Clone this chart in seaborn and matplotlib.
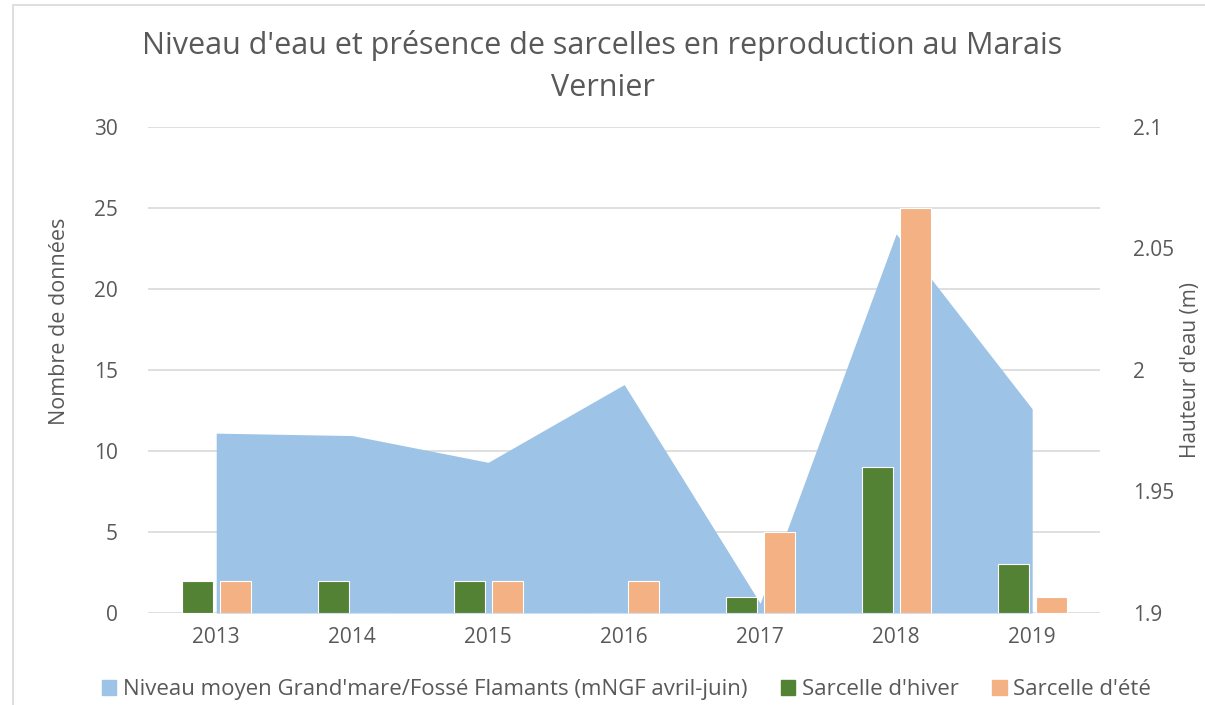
import pandas as pd
import seaborn as sns
import matplotlib.pyplot as plt
from matplotlib.patches import Patch, Rectangle
from matplotlib.ticker import MultipleLocator, LinearLocator

# --- données ---
annees = ["2013", "2014", "2015", "2016", "2017", "2018", "2019"]
niveau_eau = [1.974, 1.973, 1.962, 1.994, 1.904, 2.056, 1.984]
sarcelle_hiver = [2, 2, 2, 0, 1, 9, 3]
sarcelle_ete = [2, 0, 2, 2, 5, 25, 1]

series = ["Sarcelle d'hiver", "Sarcelle d'été"]
niveau_label = "Niveau moyen Grand'mare/Fossé Flamants (mNGF avril-juin)"

BLEU = "#9DC3E6"
VERT = "#548235"
ORANGE = "#F4B183"
GRIS = "#595959"

df = pd.DataFrame({
    "annee": annees * 2,
    "serie": [series[0]] * len(annees) + [series[1]] * len(annees),
    "nombre": sarcelle_hiver + sarcelle_ete,
})

sns.set_theme(style="white")
plt.rcParams['font.family'] = ['Open Sans', 'DejaVu Sans']

fig = plt.figure(figsize=(12.05, 7.05), dpi=100)
fig.patches.append(Rectangle((13 / 1205, -0.1), 1.2, 1 - 5 / 705 + 0.1, transform=fig.transFigure,
                             fill=False, edgecolor="#D9D9D9", linewidth=1.2))

# axe du fond : niveau d'eau (aire), échelle à droite
ax = fig.add_axes([0.123, 0.1305, 0.79, 0.6895])
x = list(range(len(annees)))
ax.fill_between(x, 1.9, niveau_eau, color=BLEU, linewidth=0, zorder=2)
ax.set_ylim(1.9, 2.1)
ax.set_xlim(-0.5, len(annees) - 0.5)

# axe du dessus : nombre de données (barres), échelle à gauche
ax2 = ax.twinx()
sns.barplot(data=df, x="annee", y="nombre", hue="serie", order=annees, hue_order=series,
            palette=[VERT, ORANGE], width=0.56, gap=0.18, edgecolor="white", linewidth=0.8,
            saturation=1, legend=False, ax=ax2)
ax2.set_ylim(0, 30)
ax2.set_xlim(-0.5, len(annees) - 0.5)
ax2.yaxis.set_major_locator(MultipleLocator(5))
ax2.yaxis.tick_left()
ax2.yaxis.set_label_position('left')
ax2.set_ylabel("Nombre de données", fontsize=15.5, color=GRIS)
ax2.yaxis.set_label_coords(-0.082, 0.60)
ax2.set_xlabel("")
ax2.tick_params(axis='y', length=0, labelsize=15, labelcolor=GRIS, pad=22)
ax2.grid(False)
for s in ax2.spines.values():
    s.set_visible(False)

# réglages de l'axe du fond (après twinx qui remet les graduations à gauche)
ax.yaxis.tick_right()
ax.yaxis.set_label_position('right')
ax.yaxis.set_major_locator(MultipleLocator(0.05))
ax.yaxis.set_major_formatter(plt.FuncFormatter(lambda v, p: f"{v:g}"))
ax.yaxis.set_minor_locator(LinearLocator(7))
ax.yaxis.remove_overlapping_locs = False
ax.grid(False)
ax.grid(which='minor', axis='y', color="#D9D9D9", linewidth=1.2, zorder=0)
ax.set_axisbelow(True)
ax.set_ylabel("Hauteur d'eau (m)", fontsize=15, color=GRIS)
ax.yaxis.set_label_coords(1.084, 0.5)
ax.tick_params(axis='y', which='both', length=0, labelsize=15, labelcolor=GRIS, pad=24,
               left=False, labelleft=False)
ax.set_xticks(x)
ax.set_xticklabels(annees)
ax.set_xlabel("")
ax.tick_params(axis='x', length=0, labelsize=15, labelcolor=GRIS, pad=10)
for s in ax.spines.values():
    s.set_visible(False)

fig.suptitle("Niveau d'eau et présence de sarcelles en reproduction au Marais\nVernier",
             fontsize=22, color=GRIS, y=0.957, linespacing=1.5)

handles = [Patch(color=BLEU, label=niveau_label),
           Patch(color=VERT, label=series[0]),
           Patch(color=ORANGE, label=series[1])]
fig.legend(handles=handles, loc='center', bbox_to_anchor=(0.52, 0.022), ncol=3, frameon=False,
           fontsize=16, labelcolor=GRIS, handlelength=0.65, handleheight=0.65, handletextpad=0.3,
           columnspacing=1.5)

fig.savefig("out.png", dpi=100, facecolor="white")
